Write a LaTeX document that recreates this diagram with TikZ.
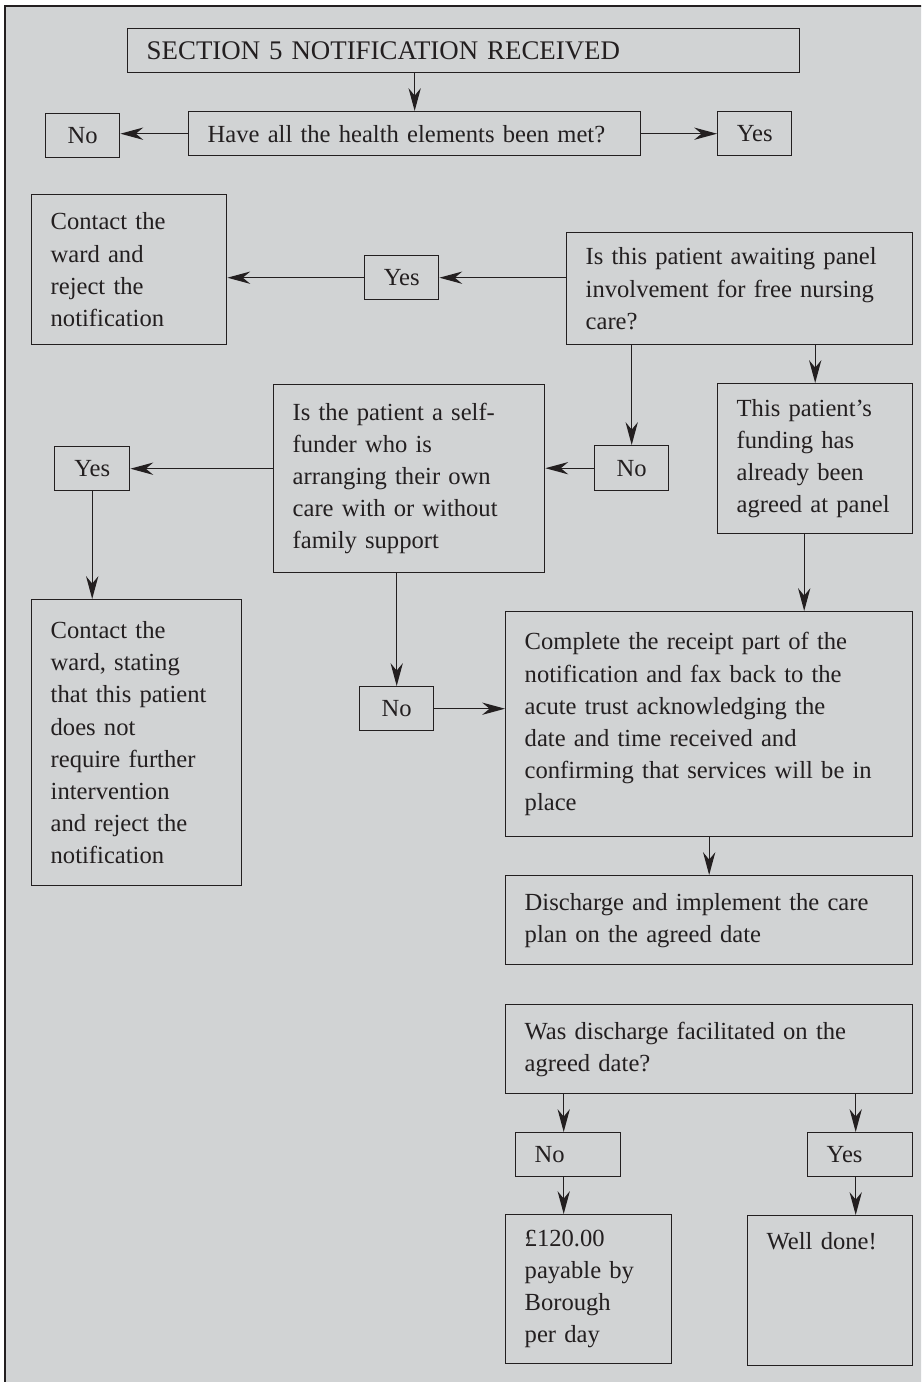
\documentclass[tikz,border=0pt]{standalone}
\usepackage{fontspec}
\setmainfont{Liberation Serif}
\usepackage{tikz}
\usetikzlibrary{arrows.meta, calc, positioning}
\definecolor{Ink}{HTML}{231F20}
\definecolor{Panel}{HTML}{D1D3D4}
\newcommand{\boxfont}{\fontsize{14}{18.3}\selectfont}
\tikzset{
  frame/.style={draw=Ink, line width=1.5pt},
  box/.style={draw=Ink, line width=0.8pt, anchor=north west, inner xsep=0.38cm, inner ysep=0pt, align=left, font=\boxfont, text=Ink},
  tag/.style={draw=Ink, line width=0.8pt, anchor=north west, inner sep=0pt, minimum width=1.48cm, minimum height=0.88cm, font=\boxfont, text=Ink},
  flow/.style={-{Stealth[length=13pt, width=7pt]}, line width=0.7pt, color=Ink},
}

\begin{document}
\begin{tikzpicture}[x=0.02cm, y=-0.02cm]
  \clip (0,0) rectangle (921,1382);
  % Panel and frame
  \fill[Panel] (5,6) rectangle (930,1390);
  \draw[frame] (5,1390) -- (5,6) -- (930,6);

  % Notification and first check
  \node[box, text width=12.68cm, minimum height=0.88cm, font=\fontsize{15.3}{18.3}\selectfont] (section) at (127,28) {SECTION 5 NOTIFICATION RECEIVED};
  \node[box, text width=8.28cm, minimum height=0.88cm] (metq) at (188,111) {Have all the health elements been met?};
  \node[tag] (no1) at (45,113) {No};
  \node[tag] (yes1) at (717,111) {Yes};

  % Panel question
  \node[box, text width=3.14cm, minimum height=3.0cm] (contact1) at (31,194) {Contact the\\ ward and\\ reject the\\ notification};
  \node[tag] (yes2) at (364,255) {Yes};
  \node[box, text width=6.16cm, minimum height=2.24cm] (panelq) at (566,232) {Is this patient awaiting panel\\ involvement for free nursing\\ care?};

  % Self-funder question
  \node[box, text width=4.66cm, minimum height=3.76cm] (selfq) at (273,384) {Is the patient a self-\\ funder who is\\ arranging their own\\ care with or without\\ family support};
  \node[tag, minimum height=0.9cm] (no2) at (594,445) {No};
  \node[tag, minimum width=1.5cm] (yes3) at (54,446) {Yes};
  \node[box, text width=3.44cm, minimum height=5.72cm] (contact2) at (31,599) {Contact the\\ ward, stating\\ that this patient\\ does not\\ require further\\ intervention\\ and reject the\\ notification};
  \node[box, text width=3.14cm, minimum height=3.0cm] (agreed) at (717,383) {This patient's\\ funding has\\ already been\\ agreed at panel};

  % Receipt and discharge
  \node[box, text width=7.38cm, minimum height=4.5cm] (receipt) at (505,611) {Complete the receipt part of the\\ notification and fax back to the\\ acute trust acknowledging the\\ date and time received and\\ confirming that services will be in\\ place};
  \node[tag] (no3) at (359,686) {No};
  \node[box, text width=7.38cm, minimum height=1.78cm] (dischg) at (505,875) {Discharge and implement the care\\ plan on the agreed date};
  \node[box, text width=7.38cm, minimum height=1.78cm] (facq) at (505,1004) {Was discharge facilitated on the\\ agreed date?};
  \node[box, text width=1.34cm, minimum height=0.88cm] (no4) at (515,1132) {No};
  \node[box, text width=1.34cm, minimum height=0.88cm] (yes4) at (807,1132) {Yes};
  \node[box, text width=2.56cm, minimum height=2.98cm] (pay) at (505,1214) {£120.00\\ payable by\\ Borough\\ per day};
  \node[box, text width=2.54cm, text height=0.68cm, text depth=2.32cm] (welldone) at (747,1215) {Well done!};

  % Connectors
  \draw[flow] (metq.north |- section.south) -- (metq.north);
  \draw[flow] (metq.west) -- (metq.west -| no1.east);
  \draw[flow] (metq.east) -- (metq.east -| yes1.west);
  \draw[flow] (panelq.west |- yes2) -- (yes2.east);
  \draw[flow] (yes2.west) -- (yes2.west -| contact1.east);
  \draw[flow] (panelq.south -| no2) -- (no2.north);
  \draw[flow] (panelq.south -| agreed) -- (agreed.north);
  \draw[flow] (no2.west) -- (no2.west -| selfq.east);
  \draw[flow] (selfq.west |- yes3) -- (yes3.east);
  \draw[flow] (yes3.south) -- (yes3.south |- contact2.north);
  \draw[flow] (no3.north |- selfq.south) -- (no3.north);
  \draw[flow] (no3.east) -- (no3.east -| receipt.west);
  \draw[flow] ([xshift=-0.22cm]agreed.south) -- ([xshift=-0.22cm]agreed.south |- receipt.north);
  \draw[flow] (receipt.south) -- (dischg.north);
  \draw[flow] ([xshift=-0.09cm]facq.south -| no4) -- ([xshift=-0.09cm]no4.north);
  \draw[flow] ([xshift=-0.09cm]facq.south -| yes4) -- ([xshift=-0.09cm]yes4.north);
  \draw[flow] ([xshift=-0.09cm]no4.south) -- ([xshift=-0.09cm]no4.south |- pay.north);
  \draw[flow] ([xshift=-0.09cm]yes4.south) -- ([xshift=-0.09cm]yes4.south |- welldone.north);
\end{tikzpicture}
\end{document}
